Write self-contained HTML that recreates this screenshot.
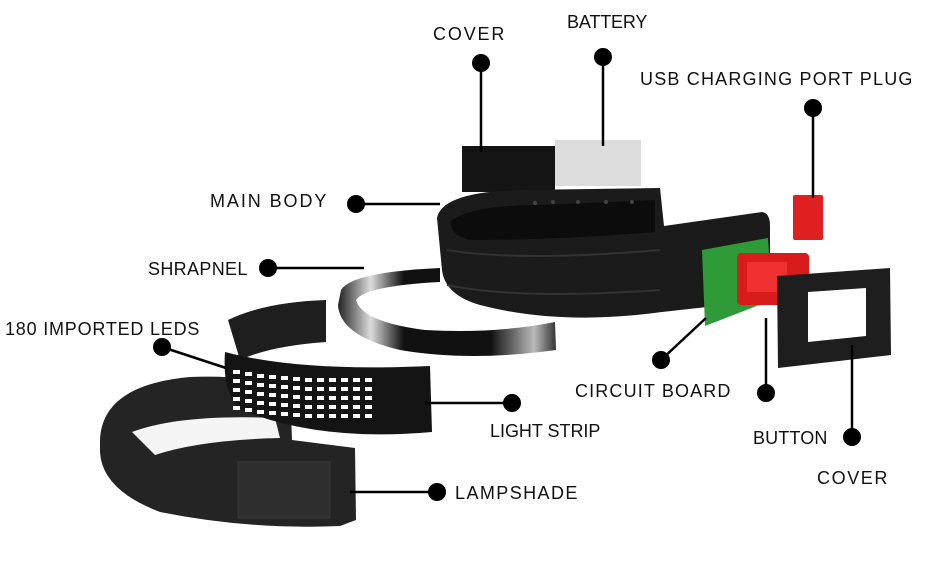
<!DOCTYPE html>
<html><head><meta charset="utf-8"><style>
html,body{margin:0;padding:0;background:#fff;width:936px;height:567px;overflow:hidden}
text{font-family:"Liberation Sans",sans-serif;font-size:18px;fill:#111;letter-spacing:0.6px}
</style></head><body>
<svg width="936" height="567" viewBox="0 0 936 567" xmlns="http://www.w3.org/2000/svg">
<defs>
<linearGradient id="sh" x1="0" x2="1" y1="0" y2="0">
<stop offset="0" stop-color="#222"/><stop offset="0.15" stop-color="#ddd"/><stop offset="0.3" stop-color="#111"/><stop offset="0.7" stop-color="#111"/><stop offset="0.9" stop-color="#bbb"/><stop offset="1" stop-color="#333"/>
</linearGradient>
</defs>
<rect x="462" y="146" width="93" height="46" fill="#141414"/>
<rect x="555" y="140" width="86" height="46" fill="#dcdcdc"/>
<path d="M437,218 Q442,192 520,190 L660,188 L664,226 L762,212 Q770,213 770,226 L770,300 L662,312 Q560,326 480,305 Q445,295 442,270 Z" fill="#1b1b1b"/>
<path d="M450,222 Q470,205 540,205 L655,200 L655,232 Q560,240 470,240 Q452,236 450,222 Z" fill="#0c0c0c"/>
<g fill="#444"><circle cx="535" cy="203" r="2"/><circle cx="553" cy="202" r="2"/><circle cx="578" cy="202" r="2"/><circle cx="606" cy="202" r="2"/><circle cx="632" cy="202" r="2"/></g>
<path d="M447,250 Q520,262 660,250" stroke="#333" stroke-width="2" fill="none"/>
<path d="M447,285 Q520,300 660,290" stroke="#333" stroke-width="2" fill="none"/>
<path d="M555,322 L556,350 Q470,362 400,350 Q340,336 338,305 L341,290 Q352,272 440,268 L440,282 Q365,286 356,300 Q362,322 425,330 Q495,334 555,322 Z" fill="url(#sh)"/>
<path d="M100,440 Q102,385 190,377 Q240,375 290,385 L292,440 L355,448 L356,520 L340,526 Q250,530 160,512 Q102,490 100,452 Z" fill="#242424"/>
<path d="M132,432 Q180,414 275,418 L280,438 Q200,440 155,455 Z" fill="#f4f4f4"/>
<rect x="238" y="462" width="92" height="56" fill="#2e2e2e" stroke="#3a3a3a"/>
<path d="M228,320 Q265,302 326,300 L326,342 Q270,346 240,360 Z" fill="#1e1e1e"/>
<path d="M225,352 Q300,372 430,366 L432,432 Q320,442 242,410 Q222,396 225,352 Z" fill="#141414"/>
<g fill="#fff">
<g id="row">
<rect x="233" y="370" width="7" height="4"/><rect x="245" y="372" width="7" height="4"/><rect x="257" y="374" width="7" height="4"/><rect x="269" y="375" width="7" height="4"/><rect x="281" y="376" width="7" height="4"/><rect x="293" y="377" width="7" height="4"/><rect x="305" y="378" width="7" height="4"/><rect x="317" y="378" width="7" height="4"/><rect x="329" y="378" width="7" height="4"/><rect x="341" y="378" width="7" height="4"/><rect x="353" y="378" width="7" height="4"/><rect x="365" y="378" width="7" height="4"/>
</g>
<use href="#row" y="9"/><use href="#row" y="18"/><use href="#row" y="27"/><use href="#row" y="36"/>
</g>
<path d="M702,250 L768,238 L772,300 L705,326 Z" fill="#2f9a38"/>
<rect x="737" y="253" width="72" height="52" rx="4" fill="#d81c1c"/>
<rect x="747" y="262" width="40" height="30" fill="#f03030"/>
<rect x="793" y="195" width="30" height="45" rx="2" fill="#e02020"/>
<path d="M777,276 L890,268 L891,355 L778,368 Z" fill="#1e1e1e"/>
<path d="M808,292 L866,288 L866,336 L808,342 Z" fill="#fff"/>
<g stroke="#000" stroke-width="2.5" fill="none">
<path d="M481,63 V152"/><path d="M603,57 V146"/><path d="M813,108 V198"/>
<path d="M356,204 H440"/><path d="M268,268 H364"/><path d="M162,347 L226,368"/>
<path d="M512,403 H425"/><path d="M437,492 H350"/><path d="M661,360 L706,318"/>
<path d="M766,393 V318"/><path d="M852,437 V345"/>
</g>
<g fill="#000">
<circle cx="481" cy="63" r="9"/><circle cx="603" cy="57" r="9"/><circle cx="813" cy="108" r="9"/>
<circle cx="356" cy="204" r="9"/><circle cx="268" cy="268" r="9"/><circle cx="162" cy="347" r="9"/>
<circle cx="512" cy="403" r="9"/><circle cx="437" cy="492" r="9"/><circle cx="661" cy="360" r="9"/>
<circle cx="766" cy="393" r="9"/><circle cx="852" cy="437" r="9"/>
</g>
<text x="433" y="40" textLength="72">COVER</text>
<text x="567" y="28" textLength="81">BATTERY</text>
<text x="640" y="85" textLength="273">USB CHARGING PORT PLUG</text>
<text x="210" y="207" textLength="117">MAIN BODY</text>
<text x="148" y="275" textLength="100">SHRAPNEL</text>
<text x="5" y="335" textLength="195">180 IMPORTED LEDS</text>
<text x="490" y="437" textLength="111">LIGHT STRIP</text>
<text x="455" y="499" textLength="123">LAMPSHADE</text>
<text x="575" y="397" textLength="156">CIRCUIT BOARD</text>
<text x="753" y="444" textLength="75">BUTTON</text>
<text x="817" y="484" textLength="71">COVER</text>
</svg>
</body></html>
